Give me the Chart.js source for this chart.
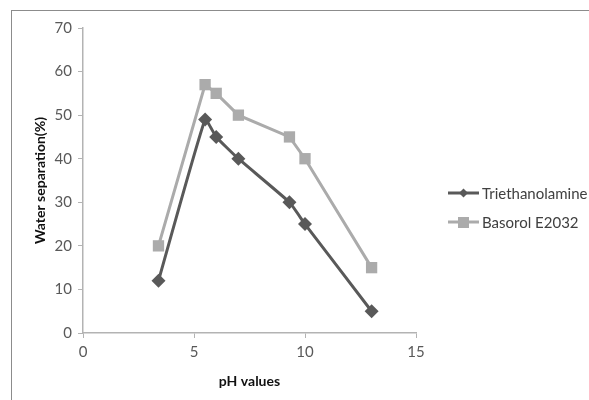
<!DOCTYPE html>
<html>
<head>
<meta charset="utf-8">
<script src="https://cdn.jsdelivr.net/npm/chart.js@4"></script>
<style>
  html, body { margin: 0; padding: 0; background: #fff; }
  #wrap { position: relative; width: 589px; height: 400px; }
  #frame { position: absolute; left: 11px; top: 10px; right: 0; bottom: 0;
           border-left: 1.5px solid #8c8c8c; border-top: 1.5px solid #8c8c8c; }
  canvas { position: absolute; left: 0; top: 0; }
</style>
</head>
<body>
<div id="wrap">
  <div id="frame"></div>
  <canvas id="chart" width="589" height="400"></canvas>
</div>
<script>
// Data
const phValues = [3.4, 5.5, 6, 7, 9.3, 10, 13];
const triethanolamine = [12, 49, 45, 40, 30, 25, 5];
const basorol = [20, 57, 55, 50, 45, 40, 15];
const seriesNames = ['Triethanolamine', 'Basorol E2032'];
const xTicks = [0, 5, 10, 15];
const yTicks = [0, 10, 20, 30, 40, 50, 60, 70];

const DARK = '#595959';
const LIGHT = '#ababab';
const AXIS = '#b3b3b3';
const FONT = 'Lato, "Open Sans", sans-serif';

const toPoints = (ys) => phValues.map((x, i) => ({ x: x, y: ys[i] }));

// Legend drawn by hand: line through marker, like the spreadsheet legend
const sideLegend = {
    id: 'sideLegend',
    afterDraw(chart) {
        const c = chart.ctx;
        const x0 = 448;
        const rows = [193, 222];
        chart.data.datasets.forEach((ds, i) => {
            const y = rows[i];
            c.save();
            c.strokeStyle = ds.borderColor;
            c.lineWidth = 3;
            c.beginPath();
            c.moveTo(x0, y);
            c.lineTo(x0 + 31, y);
            c.stroke();
            c.fillStyle = ds.backgroundColor;
            if (ds.pointStyle === 'rect') {
                c.fillRect(x0 + 10, y - 5, 11, 11);
            } else {
                c.beginPath();
                c.moveTo(x0 + 15.5, y - 4.5);
                c.lineTo(x0 + 20, y);
                c.lineTo(x0 + 15.5, y + 4.5);
                c.lineTo(x0 + 11, y);
                c.closePath();
                c.fill();
            }
            c.fillStyle = '#404040';
            c.font = '15px ' + FONT;
            c.textBaseline = 'middle';
            c.textAlign = 'left';
            c.fillText(ds.label, x0 + 34, y + 1);
            c.restore();
        });
    }
};

const ctx = document.getElementById('chart').getContext('2d');

const chart = new Chart(ctx, {
    type: 'scatter',
    data: {
        datasets: [{
            label: seriesNames[0],
            data: toPoints(triethanolamine),
            showLine: true,
            borderColor: DARK,
            backgroundColor: DARK,
            borderWidth: 3,
            tension: 0.12,
            pointStyle: 'rectRot',
            pointRadius: 7,
            pointHoverRadius: 7,
            pointBorderWidth: 0
        }, {
            label: seriesNames[1],
            data: toPoints(basorol),
            showLine: true,
            borderColor: LIGHT,
            backgroundColor: LIGHT,
            borderWidth: 3,
            tension: 0,
            pointStyle: 'rect',
            pointRadius: 8,
            pointHoverRadius: 8,
            pointBorderWidth: 0
        }]
    },
    options: {
        responsive: false,
        animation: false,
        layout: { padding: { left: 32, top: 28, right: 173, bottom: 10 } },
        plugins: {
            legend: { display: false },
            tooltip: { enabled: false }
        },
        scales: {
            x: {
                type: 'linear',
                min: 0, max: 15,
                afterBuildTicks: (s) => { s.ticks = xTicks.map(v => ({ value: v })); },
                afterFit: (s) => { s.height = 57; },
                grid: { drawOnChartArea: false, drawTicks: true, tickLength: 5, color: AXIS },
                border: { color: AXIS, width: 1.5 },
                ticks: { color: '#595959', font: { family: FONT, size: 15 }, padding: 5 },
                title: {
                    display: true, text: 'pH values', color: '#111',
                    font: { family: FONT, size: 14, weight: 'bold' }, padding: { top: 4, bottom: 0 }
                }
            },
            y: {
                min: 0, max: 70,
                afterBuildTicks: (s) => { s.ticks = yTicks.map(v => ({ value: v })); },
                afterFit: (s) => { s.width = 51; },
                grid: { drawOnChartArea: false, drawTicks: true, tickLength: 5, color: AXIS },
                border: { color: AXIS, width: 1.5 },
                ticks: { color: '#595959', font: { family: FONT, size: 15 }, padding: 6 },
                title: {
                    display: true, text: 'Water separation(%)', color: '#111',
                    font: { family: FONT, size: 14, weight: 'bold' }, padding: { top: 0, bottom: 4 }
                }
            }
        }
    },
    plugins: [sideLegend]
});
</script>
</body>
</html>
